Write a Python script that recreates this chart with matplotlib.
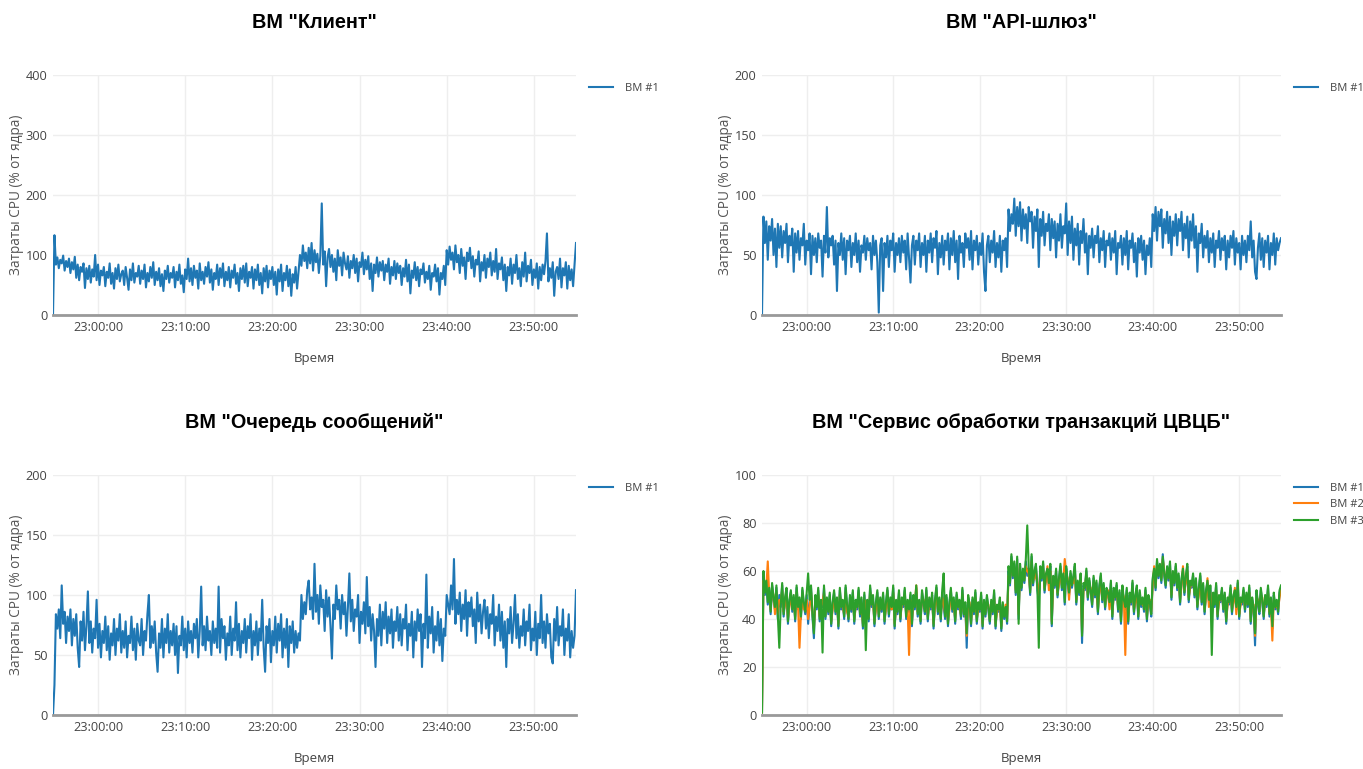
import numpy as np
import pandas as pd
import matplotlib
matplotlib.use("Agg")
import matplotlib.pyplot as plt
import matplotlib.dates as mdates

plt.rcParams['font.family'] = ['Open Sans', 'DejaVu Sans']

# Время: отсчёты каждые 10 с, 22:54:50 - 23:54:50
times = pd.date_range("2021-01-01 22:54:50", periods=361, freq="10s")

client = [
    0, 133, 84, 96, 78, 92, 86, 99, 74, 90, 80, 94,
    70, 88, 76, 97, 62, 84, 58, 80, 72, 86, 45, 78,
    60, 82, 54, 76, 64, 100, 58, 84, 50, 74, 66, 80,
    48, 72, 62, 86, 52, 70, 44, 78, 60, 84, 56, 68,
    74, 50, 80, 62, 42, 76, 58, 86, 54, 70, 64, 82,
    52, 74, 60, 84, 46, 70, 56, 80, 62, 88, 50, 72,
    58, 78, 48, 68, 40, 74, 60, 82, 54, 70, 62, 80,
    46, 72, 58, 84, 52, 66, 38, 76, 60, 94, 56, 78,
    50, 82, 62, 74, 44, 86, 58, 72, 52, 80, 64, 88,
    54, 76, 42, 70, 60, 84, 50, 78, 62, 86, 48, 72,
    58, 80, 46, 74, 62, 84, 52, 70, 40, 78, 60, 82,
    54, 86, 48, 72, 62, 80, 44, 76, 58, 84, 50, 70,
    36, 78, 56, 82, 46, 74, 60, 80, 50, 72, 34, 76,
    56, 84, 40, 70, 58, 82, 48, 76, 32, 68, 54, 80,
    44, 72, 100, 82, 116, 90, 104, 78, 112, 86, 120, 74,
    108, 88, 102, 70, 98, 186, 84, 106, 48, 96, 110, 80,
    100, 72, 94, 58, 108, 82, 96, 66, 104, 86, 76, 98,
    62, 90, 78, 100, 70, 94, 56, 88, 80, 104, 68, 92,
    76, 98, 60, 86, 40, 84, 70, 96, 64, 88, 74, 90,
    58, 84, 72, 94, 52, 80, 66, 90, 60, 86, 70, 82,
    50, 78, 64, 92, 56, 84, 36, 74, 62, 88, 58, 80,
    48, 76, 68, 86, 54, 72, 60, 82, 42, 70, 64, 84,
    56, 78, 34, 70, 60, 82, 50, 108, 84, 114, 92, 104,
    76, 116, 88, 100, 70, 110, 82, 96, 60, 104, 90, 112,
    78, 98, 64, 92, 84, 106, 56, 88, 74, 100, 62, 94,
    80, 104, 66, 90, 72, 110, 60, 86, 76, 96, 58, 84,
    40, 80, 66, 94, 52, 84, 70, 100, 60, 78, 48, 88,
    64, 104, 56, 82, 70, 92, 50, 76, 62, 86, 44, 80,
    58, 84, 68, 90, 136, 56, 78, 62, 88, 32, 72, 80,
    60, 94, 46, 78, 66, 88, 44, 82, 58, 76, 48, 84,
    120,
]

gateway = [
    0, 82, 60, 78, 46, 74, 62, 80, 50, 72, 40, 76,
    56, 74, 48, 70, 60, 76, 44, 66, 58, 72, 36, 68,
    52, 70, 46, 64, 58, 76, 42, 62, 54, 68, 34, 66,
    50, 64, 44, 68, 56, 62, 32, 66, 52, 90, 48, 64,
    58, 66, 42, 62, 20, 60, 50, 68, 46, 64, 34, 62,
    54, 66, 40, 60, 50, 68, 44, 62, 36, 58, 52, 66,
    46, 64, 54, 60, 38, 66, 50, 62, 44, 2, 58, 64,
    20, 60, 48, 66, 40, 62, 54, 68, 36, 60, 50, 64,
    44, 66, 52, 62, 38, 68, 48, 27, 58, 66, 42, 62,
    54, 68, 40, 60, 50, 66, 36, 62, 52, 68, 44, 64,
    56, 70, 34, 60, 48, 66, 42, 62, 54, 68, 38, 64,
    50, 70, 44, 62, 30, 66, 52, 60, 40, 68, 56, 64,
    46, 70, 38, 62, 54, 66, 42, 60, 50, 68, 36, 20,
    58, 66, 44, 62, 52, 70, 40, 60, 48, 66, 36, 62,
    54, 64, 40, 88, 70, 84, 76, 97, 66, 90, 74, 94,
    62, 88, 72, 84, 60, 90, 78, 86, 56, 82, 70, 88,
    40, 80, 66, 86, 58, 76, 70, 84, 54, 80, 64, 78,
    48, 76, 62, 84, 56, 74, 68, 93, 50, 78, 60, 82,
    46, 72, 58, 76, 42, 70, 60, 80, 52, 68, 34, 66,
    56, 72, 48, 66, 60, 74, 44, 64, 54, 70, 40, 62,
    58, 68, 46, 64, 52, 70, 34, 60, 56, 66, 42, 64,
    50, 70, 38, 62, 56, 68, 44, 60, 32, 64, 52, 66,
    46, 62, 34, 58, 50, 64, 40, 84, 70, 90, 62, 86,
    74, 88, 56, 80, 68, 86, 60, 82, 50, 78, 66, 84,
    58, 80, 70, 86, 54, 76, 64, 82, 48, 78, 62, 84,
    56, 74, 36, 68, 60, 76, 48, 66, 56, 70, 44, 64,
    52, 68, 40, 62, 56, 70, 46, 64, 54, 66, 38, 62,
    48, 66, 56, 70, 42, 64, 52, 60, 38, 66, 50, 62,
    44, 66, 54, 78, 48, 62, 36, 30, 56, 68, 46, 64,
    40, 62, 52, 66, 38, 60, 50, 68, 42, 64, 54, 60,
    64,
]

queue = [
    0, 25, 84, 72, 88, 64, 108, 76, 86, 60, 82, 70,
    88, 58, 80, 66, 84, 56, 40, 78, 62, 86, 54, 74,
    103, 60, 78, 52, 72, 64, 96, 56, 76, 48, 70, 60,
    82, 54, 74, 46, 68, 58, 80, 50, 72, 62, 84, 52,
    70, 56, 78, 48, 66, 60, 82, 54, 72, 46, 76, 62,
    58, 80, 50, 70, 62, 84, 100, 56, 74, 60, 78, 52,
    36, 68, 56, 80, 48, 72, 60, 84, 52, 70, 58, 76,
    50, 74, 35, 66, 58, 82, 54, 72, 48, 78, 60, 70,
    52, 76, 64, 80, 48, 70, 107, 58, 74, 54, 82, 62,
    70, 50, 78, 60, 72, 56, 107, 52, 80, 64, 74, 46,
    68, 58, 82, 50, 72, 62, 94, 54, 76, 48, 70, 60,
    80, 52, 74, 64, 84, 46, 70, 58, 78, 50, 72, 62,
    96, 56, 36, 74, 60, 80, 44, 70, 58, 82, 52, 76,
    62, 84, 48, 72, 56, 80, 40, 74, 60, 78, 52, 70,
    56, 68, 62, 100, 80, 94, 84, 104, 112, 88, 98, 80,
    126, 86, 100, 76, 108, 90, 96, 70, 104, 82, 98, 74,
    47, 92, 80, 108, 88, 96, 72, 100, 84, 94, 66, 90,
    118, 78, 96, 70, 88, 82, 100, 60, 86, 76, 94, 68,
    115, 74, 90, 62, 84, 70, 40, 80, 66, 92, 58, 86,
    72, 94, 60, 82, 68, 88, 56, 78, 70, 90, 62, 84,
    58, 80, 72, 92, 54, 76, 66, 86, 48, 78, 62, 88,
    70, 84, 40, 76, 64, 117, 56, 82, 68, 90, 52, 74,
    62, 86, 58, 80, 45, 72, 66, 100, 92, 84, 108, 88,
    130, 76, 96, 84, 102, 70, 92, 80, 104, 66, 94, 82,
    98, 74, 88, 60, 102, 78, 92, 68, 86, 96, 72, 90,
    64, 84, 76, 100, 58, 82, 70, 92, 62, 86, 56, 78,
    40, 80, 68, 90, 60, 76, 100, 64, 84, 56, 74, 66,
    88, 58, 78, 70, 92, 54, 72, 62, 86, 50, 76, 64,
    100, 60, 78, 56, 84, 68, 76, 48, 43, 80, 62, 90,
    58, 74, 66, 88, 50, 72, 62, 84, 48, 70, 56, 66,
    104,
]

tx_vm1 = [
    1, 58, 50, 55, 46, 52, 42, 54, 48, 44, 53, 40,
    50, 45, 54, 41, 48, 52, 38, 47, 51, 43, 49, 39,
    53, 44, 48, 40, 52, 46, 42, 50, 38, 47, 53, 41,
    32, 49, 44, 52, 39, 47, 45, 53, 40, 48, 42, 50,
    37, 46, 51, 42, 48, 36, 52, 44, 47, 40, 53, 45,
    39, 49, 43, 51, 38, 47, 44, 52, 41, 48, 36, 50,
    42, 47, 39, 53, 45, 49, 37, 46, 51, 40, 48, 43,
    50, 38, 46, 52, 41, 48, 44, 53, 36, 47, 42, 51,
    39, 48, 45, 52, 40, 47, 43, 50, 37, 49, 44, 53,
    41, 47, 38, 51, 46, 42, 52, 39, 48, 44, 50, 36,
    47, 53, 42, 48, 39, 51, 45, 40, 49, 37, 46, 52,
    43, 48, 38, 50, 44, 47, 40, 52, 41, 46, 28, 49,
    45, 37, 48, 42, 51, 38, 46, 43, 50, 36, 47, 41,
    49, 44, 38, 47, 42, 51, 36, 45, 43, 48, 35, 46,
    40, 44, 38, 60, 54, 66, 57, 63, 50, 65, 40, 62,
    52, 60, 55, 64, 58, 61, 50, 66, 54, 59, 62, 52,
    48, 61, 56, 63, 51, 58, 60, 54, 62, 37, 57, 53,
    60, 49, 56, 62, 52, 58, 46, 61, 55, 50, 59, 53,
    57, 62, 46, 55, 50, 58, 30, 54, 52, 60, 48, 56,
    51, 45, 57, 49, 55, 42, 53, 58, 47, 54, 44, 52,
    50, 46, 55, 40, 52, 48, 54, 43, 51, 38, 53, 47,
    44, 52, 38, 50, 46, 55, 42, 49, 53, 40, 51, 45,
    48, 43, 52, 39, 49, 46, 41, 56, 60, 52, 64, 57,
    62, 55, 67, 58, 53, 61, 56, 63, 48, 59, 54, 62,
    52, 58, 46, 56, 60, 50, 57, 62, 47, 55, 53, 58,
    49, 56, 44, 52, 58, 46, 54, 42, 51, 55, 47, 53,
    41, 50, 45, 54, 40, 49, 47, 52, 43, 50, 38, 48,
    46, 53, 42, 49, 51, 44, 55, 40, 48, 46, 52, 43,
    50, 45, 53, 38, 48, 44, 29, 51, 46, 42, 52, 47,
    40, 49, 45, 53, 41, 48, 36, 50, 44, 47, 42, 51,
    53,
]

tx_vm2 = [
    1, 56, 52, 53, 64, 50, 44, 52, 50, 42, 51, 42,
    48, 47, 52, 43, 46, 50, 40, 45, 49, 45, 47, 41,
    51, 46, 28, 42, 50, 44, 44, 48, 40, 45, 51, 43,
    36, 47, 46, 50, 41, 45, 47, 51, 42, 46, 44, 48,
    39, 44, 49, 44, 46, 38, 50, 46, 45, 42, 51, 43,
    41, 47, 45, 49, 40, 45, 46, 50, 43, 46, 38, 48,
    44, 45, 41, 51, 47, 47, 39, 44, 49, 42, 46, 45,
    48, 40, 44, 50, 43, 46, 44, 51, 38, 45, 44, 49,
    41, 46, 47, 50, 42, 45, 25, 48, 39, 47, 46, 54,
    43, 45, 40, 49, 48, 44, 50, 41, 46, 46, 48, 38,
    45, 51, 44, 46, 41, 49, 47, 42, 47, 39, 44, 50,
    45, 46, 40, 48, 46, 45, 42, 50, 43, 44, 33, 47,
    47, 39, 46, 44, 49, 40, 44, 45, 48, 38, 45, 43,
    47, 46, 40, 45, 44, 49, 38, 43, 45, 46, 37, 44,
    42, 46, 40, 58, 56, 64, 59, 61, 52, 63, 42, 60,
    54, 58, 57, 62, 60, 59, 52, 64, 56, 57, 60, 54,
    50, 59, 58, 61, 53, 56, 62, 52, 60, 39, 55, 55,
    58, 51, 54, 60, 54, 56, 65, 59, 57, 48, 57, 55,
    55, 60, 48, 53, 52, 56, 34, 52, 54, 58, 50, 54,
    53, 47, 55, 51, 53, 44, 51, 56, 49, 52, 46, 50,
    52, 44, 53, 42, 50, 50, 52, 45, 49, 40, 51, 49,
    25, 50, 40, 48, 48, 53, 44, 47, 51, 42, 49, 47,
    46, 45, 50, 41, 47, 48, 43, 54, 62, 54, 62, 59,
    60, 57, 65, 60, 55, 59, 58, 61, 50, 57, 56, 60,
    54, 56, 48, 54, 62, 52, 55, 60, 49, 53, 55, 56,
    51, 54, 46, 50, 56, 48, 52, 44, 49, 57, 45, 51,
    43, 48, 47, 52, 42, 47, 49, 50, 45, 48, 40, 46,
    48, 51, 44, 47, 53, 42, 53, 42, 46, 48, 50, 45,
    48, 47, 51, 40, 46, 46, 33, 49, 48, 44, 50, 49,
    42, 47, 47, 51, 43, 46, 31, 48, 46, 45, 44, 49,
    52,
]

tx_vm3 = [
    1, 60, 51, 56, 47, 53, 43, 55, 49, 45, 54, 41,
    28, 46, 55, 42, 49, 53, 39, 48, 52, 44, 50, 40,
    54, 45, 49, 41, 53, 47, 43, 51, 59, 48, 54, 42,
    34, 50, 45, 53, 40, 48, 26, 54, 41, 49, 43, 51,
    38, 47, 52, 43, 49, 37, 53, 45, 48, 41, 54, 46,
    40, 50, 44, 52, 39, 48, 45, 53, 42, 49, 37, 51,
    27, 48, 40, 54, 46, 50, 38, 47, 52, 41, 49, 44,
    51, 39, 47, 53, 42, 49, 45, 54, 37, 48, 43, 52,
    40, 49, 46, 53, 41, 48, 44, 51, 38, 50, 45, 54,
    42, 48, 39, 52, 47, 43, 53, 40, 49, 45, 51, 37,
    48, 54, 43, 49, 40, 52, 59, 41, 50, 38, 47, 53,
    44, 49, 39, 51, 45, 48, 41, 53, 42, 47, 34, 50,
    46, 38, 49, 43, 52, 39, 47, 44, 51, 37, 48, 42,
    50, 45, 39, 48, 43, 52, 37, 46, 44, 49, 36, 47,
    41, 45, 39, 62, 55, 67, 58, 64, 51, 66, 38, 63,
    53, 61, 56, 65, 79, 62, 51, 67, 55, 60, 63, 53,
    28, 62, 57, 64, 52, 59, 61, 55, 63, 38, 58, 54,
    61, 50, 57, 63, 53, 59, 47, 62, 56, 51, 60, 54,
    58, 63, 47, 56, 51, 59, 33, 55, 53, 61, 49, 57,
    52, 46, 58, 50, 56, 43, 54, 59, 48, 55, 45, 53,
    51, 47, 56, 41, 53, 49, 55, 44, 52, 39, 54, 48,
    45, 53, 39, 51, 47, 56, 43, 50, 54, 41, 52, 46,
    49, 44, 53, 40, 50, 47, 42, 57, 61, 53, 65, 58,
    63, 56, 66, 59, 54, 62, 57, 64, 49, 60, 55, 63,
    53, 59, 47, 57, 61, 51, 58, 63, 48, 56, 54, 59,
    50, 57, 45, 53, 59, 47, 55, 43, 52, 56, 48, 54,
    25, 51, 46, 55, 41, 50, 48, 53, 44, 51, 39, 49,
    47, 54, 43, 50, 52, 45, 56, 41, 49, 47, 53, 44,
    51, 46, 54, 39, 49, 45, 34, 52, 47, 43, 53, 48,
    41, 50, 46, 54, 42, 49, 37, 51, 45, 48, 43, 52,
    54,
]

titles = ['ВМ "Клиент"', 'ВМ "API-шлюз"', 'ВМ "Очередь сообщений"',
          'ВМ "Сервис обработки транзакций ЦВЦБ"']
ylims = [400, 200, 200, 100]
ysteps = [100, 50, 50, 20]
panels = [
    [("ВМ #1", client)],
    [("ВМ #1", gateway)],
    [("ВМ #1", queue)],
    [("ВМ #1", tx_vm1), ("ВМ #2", tx_vm2), ("ВМ #3", tx_vm3)],
]
colors = ["#1f77b4", "#ff7f0e", "#2ca02c"]

W, H = 1363, 769
fig = plt.figure(figsize=(W / 100, H / 100), dpi=100)
# положение областей в пикселях: left, top, right, bottom
boxes = [(53, 75, 576, 315), (762, 75, 1281, 315),
         (53, 475, 576, 715), (762, 475, 1281, 715)]

for k in range(4):
    l, t, r, b = boxes[k]
    ax = fig.add_axes([l / W, 1 - b / H, (r - l) / W, (b - t) / H])
    for j, (name, vals) in enumerate(panels[k]):
        ax.plot(times, vals, color=colors[j], lw=1.5, label=name)
    ax.set_xlim(times[0], times[-1])
    ax.set_ylim(0, ylims[k])
    ax.set_yticks(np.arange(0, ylims[k] + 1, ysteps[k]))
    ax.xaxis.set_major_locator(mdates.MinuteLocator(byminute=range(0, 60, 10)))
    ax.xaxis.set_major_formatter(mdates.DateFormatter("%H:%M:%S"))
    ax.grid(True, color="#eeeeee", lw=1)
    ax.set_axisbelow(True)
    for s in ["top", "right", "left"]:
        ax.spines[s].set_visible(False)
    ax.spines["bottom"].set_color("#999999")
    ax.spines["bottom"].set_linewidth(2)
    ax.tick_params(length=0, labelsize=9.2, colors="#444444", pad=4)
    ax.set_xlabel("Время", fontsize=9.5, color="#444444", labelpad=13)
    ax.set_ylabel("Затраты CPU (% от ядра)", fontsize=9.8, color="#555555", labelpad=1)
    ax.text(0.5, 1.22, titles[k], transform=ax.transAxes, ha="center", va="center",
            fontsize=14.3, fontweight="bold", family=["Liberation Sans", "DejaVu Sans"])
    ax.legend(loc="upper left", bbox_to_anchor=(1.01, 1.0), frameon=False,
              fontsize=8, labelcolor="#444444", handlelength=2.2, handletextpad=1.0,
              borderaxespad=0.3, labelspacing=0.5)

fig.savefig("out.png", dpi=100)
